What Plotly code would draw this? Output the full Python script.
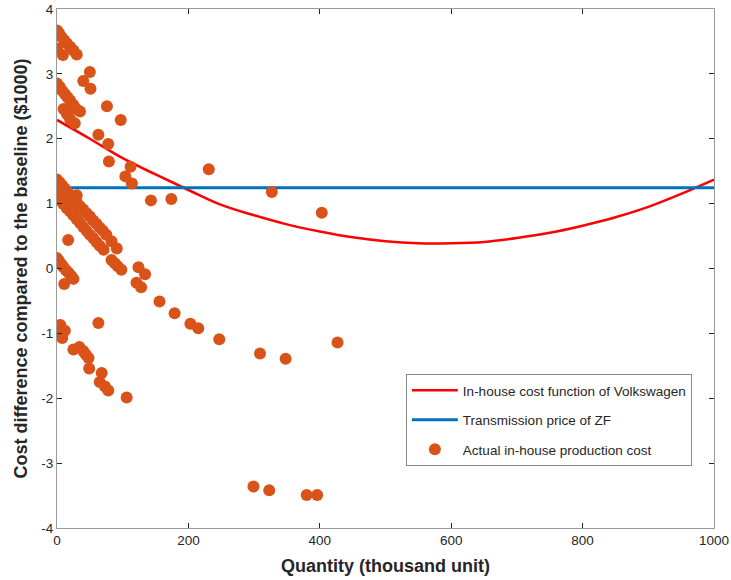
import plotly.graph_objects as go

# In-house cost function
curve_q = [0, 50, 100, 150, 200, 250, 300, 350, 400, 450, 500, 550, 600, 650, 700, 750, 800, 850, 900, 950, 1000]
curve_c = [2.29, 2.0, 1.70, 1.45, 1.21, 0.98, 0.82, 0.68, 0.57, 0.48, 0.42, 0.39, 0.39, 0.41, 0.47, 0.55, 0.66, 0.79, 0.95, 1.15, 1.37]

# Transmission price of ZF
price_q = [0, 1000]
price_c = [1.245, 1.245]

# Actual in-house production cost
actual_q = [0, 3, 7, 11, 15, 20, 25, 30, 0, 9,
            0, 4, 8, 12, 16, 20, 25, 30, 35, 10, 15, 20, 27,
            50, 40, 51, 76, 97, 63, 78, 79, 112, 104, 114, 231, 143, 174, 327, 403,
            0, 4, 8, 12, 16, 20, 25, 30, 35, 40, 45, 50, 55, 60, 65, 70, 75,
            0, 5, 10, 15, 20, 25, 30, 35, 40, 45, 50, 55, 60, 65, 71,
            30, 17, 83, 91, 8, 14, 22,
            0, 3, 7, 10, 14, 18, 22, 25, 11,
            83, 88, 92, 98,
            124, 134, 121, 128, 156, 179, 203, 215, 247, 309, 348, 427,
            5, 0, 3, 12, 8, 5, 63,
            25, 34, 40, 44, 48, 49, 68, 65, 73, 78, 106,
            299, 323, 380, 396]
actual_c = [3.67, 3.63, 3.57, 3.52, 3.47, 3.42, 3.36, 3.30, 3.39, 3.29,
            2.85, 2.80, 2.74, 2.69, 2.64, 2.59, 2.52, 2.45, 2.42, 2.46, 2.38, 2.30, 2.24,
            3.03, 2.89, 2.77, 2.50, 2.29, 2.06, 1.92, 1.65, 1.57, 1.42, 1.31, 1.53, 1.05, 1.07, 1.18, 0.86,
            1.37, 1.33, 1.28, 1.23, 1.18, 1.13, 1.08, 1.02, 0.96, 0.91, 0.85, 0.80, 0.74, 0.69, 0.63, 0.58, 0.52,
            1.11, 1.05, 0.99, 0.93, 0.88, 0.82, 0.76, 0.70, 0.64, 0.58, 0.52, 0.47, 0.41, 0.35, 0.29,
            1.13, 0.44, 0.42, 0.31, 1.20, 1.12, 1.02,
            0.16, 0.12, 0.06, 0.02, -0.03, -0.07, -0.12, -0.16, -0.24,
            0.13, 0.08, 0.04, -0.02,
            0.02, -0.09, -0.22, -0.29, -0.51, -0.69, -0.85, -0.92, -1.09, -1.31, -1.39, -1.14,
            -0.87, -0.99, -0.96, -0.96, -1.07, -1.03, -0.84,
            -1.25, -1.21, -1.27, -1.33, -1.38, -1.54, -1.61, -1.75, -1.82, -1.88, -1.99,
            -3.36, -3.42, -3.49, -3.49]

x_ticks = [0, 200, 400, 600, 800, 1000]
y_ticks = [-4, -3, -2, -1, 0, 1, 2, 3, 4]
y_ticktext = ["-4", "-3", "-2", "-1", "0", "1", "2", "3", "4"]

FONT = "Liberation Sans, Arial, Helvetica, sans-serif"
AX = "#9a9a9a"

fig = go.Figure()
fig.add_trace(go.Scatter(x=curve_q, y=curve_c, mode="lines", line=dict(color="#FF0000", width=2.5, shape="spline"),
                         name="In-house cost function of Volkswagen", legendgroup="a"))
fig.add_trace(go.Scatter(x=price_q, y=price_c, mode="lines", line=dict(color="#0072BD", width=3),
                         name="Transmission price of ZF", legendgroup="b"))
fig.add_trace(go.Scatter(x=actual_q, y=actual_c, mode="markers", marker=dict(color="#D95319", size=12),
                         name="Actual in-house production cost", legendgroup="c"))

fig.update_layout(
    width=731, height=580,
    margin=dict(l=57, r=17, t=9, b=52),
    paper_bgcolor="white", plot_bgcolor="white",
    font=dict(family=FONT, color="#262626", size=13),
    showlegend=True,
    legend=dict(x=0.531, y=0.1195, xanchor="left", yanchor="bottom",
                bordercolor="#8a8a8a", borderwidth=1, bgcolor="white",
                font=dict(size=13.5, color="#262626"),
                traceorder="grouped", tracegroupgap=9, itemwidth=46),
    xaxis=dict(range=[0, 1000], tickvals=x_ticks, ticks="inside", ticklen=5, tickcolor="#262626",
               showline=True, linecolor=AX, linewidth=1, mirror="ticks", showgrid=False, zeroline=False,
               automargin=False,
               title=dict(text="<b>Quantity (thousand unit)</b>", font=dict(size=18), standoff=12),
               tickfont=dict(size=13.5)),
    yaxis=dict(range=[-4, 4], tickvals=y_ticks, ticktext=y_ticktext, ticks="inside", ticklen=5, tickcolor="#262626",
               showline=True, linecolor=AX, linewidth=1, mirror="ticks", showgrid=False, zeroline=False,
               automargin=False,
               title=dict(text="<b>Cost difference compared to the baseline ($1000)</b>", font=dict(size=18), standoff=8),
               tickfont=dict(size=13.5)),
)

fig.write_html("out.html")
